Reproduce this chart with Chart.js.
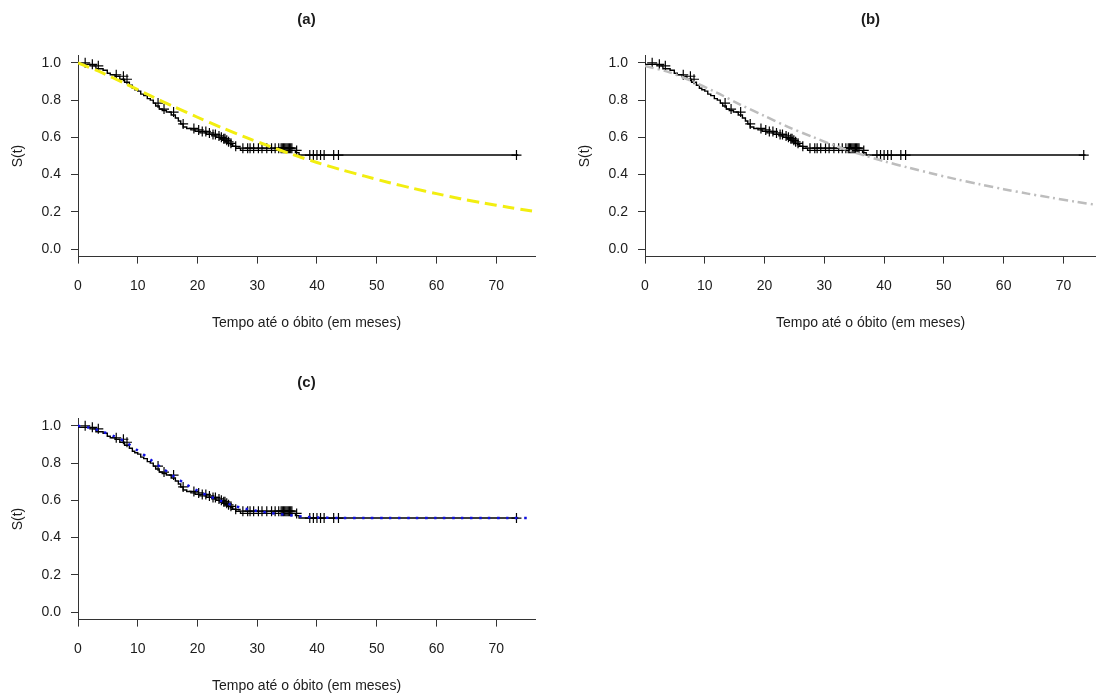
<!DOCTYPE html>
<html>
<head>
<meta charset="utf-8">
<script src="https://cdn.jsdelivr.net/npm/chart.js@4.4.1/dist/chart.umd.min.js"></script>
<style>
  html, body { margin: 0; padding: 0; background: #fff; overflow: hidden; }
  body { width: 1096px; height: 696px; position: relative; }
  canvas { position: absolute; }
</style>
</head>
<body>
<canvas id="chart-a" width="548" height="340" style="left:0;top:0"></canvas>
<canvas id="chart-b" width="537" height="340" style="left:567px;top:0"></canvas>
<canvas id="chart-c" width="548" height="333" style="left:0;top:363px"></canvas>
<script>
// Kaplan-Meier step points (time in months, survival)
const kmTimes = [0, 2.0, 3.0, 4.2, 4.9, 5.4, 6.2, 7.0, 7.8, 8.6, 9.1, 9.5, 10.0, 10.5, 11.0, 11.6, 12.1, 12.6, 13.0, 13.6, 14.1, 14.8, 15.6, 16.3, 16.8, 17.2, 17.6, 18.2, 18.9, 19.6, 20.4, 21.5, 22.4, 23.1, 23.8, 24.3, 24.7, 25.1, 25.5, 25.9, 26.4, 27.2, 36.4, 37.0, 38.2, 73.7];
const kmSurv = [1.0, 0.992, 0.984, 0.968, 0.96, 0.944, 0.936, 0.928, 0.912, 0.896, 0.88, 0.864, 0.856, 0.848, 0.832, 0.824, 0.808, 0.8, 0.784, 0.768, 0.752, 0.744, 0.736, 0.72, 0.704, 0.688, 0.672, 0.656, 0.648, 0.64, 0.632, 0.624, 0.616, 0.608, 0.6, 0.592, 0.584, 0.576, 0.568, 0.56, 0.552, 0.542, 0.53, 0.518, 0.505, 0.505];

// censored observations (+ marks)
const censorTimes = [1.2, 2.4, 3.4, 6.4, 7.6, 8.2, 13.4, 14.4, 16.0, 17.6, 19.4, 20.2, 20.8, 21.4, 22.0, 22.6, 23.0, 23.6, 24.0, 24.4, 24.6, 24.9, 25.2, 25.6, 26.4, 27.6, 28.4, 28.8, 29.4, 30.2, 30.8, 31.6, 32.4, 33.0, 33.6, 34.0, 34.2, 34.4, 34.6, 34.8, 35.0, 35.2, 35.4, 35.6, 35.8, 36.6, 38.8, 39.4, 40.0, 40.6, 41.2, 42.8, 43.6, 73.4];

// fitted parametric curves
const fitTimes = [0, 4, 8, 12, 16, 20, 24, 28, 32, 36, 40, 44, 48, 52, 56, 60, 64, 68, 72, 76];
const fitSurvA = [1.0, 0.947, 0.887, 0.825, 0.765, 0.708, 0.653, 0.601, 0.553, 0.507, 0.465, 0.427, 0.392, 0.358, 0.327, 0.298, 0.271, 0.247, 0.225, 0.205];
const fitSurvB = [0.983, 0.95, 0.9, 0.84, 0.775, 0.715, 0.655, 0.603, 0.553, 0.51, 0.472, 0.438, 0.406, 0.376, 0.348, 0.322, 0.298, 0.276, 0.255, 0.235];

// cure-rate model curve
const cureTimes = [0, 2, 4, 6, 8, 10, 12, 14, 16, 18, 20, 22, 24, 26, 28, 30, 32, 34, 36, 38, 40, 44, 48, 52, 56, 60, 64, 68, 72, 76];
const cureSurv = [1.0, 0.99, 0.97, 0.945, 0.912, 0.868, 0.822, 0.775, 0.73, 0.688, 0.652, 0.622, 0.596, 0.572, 0.555, 0.543, 0.533, 0.525, 0.518, 0.512, 0.508, 0.505, 0.505, 0.505, 0.505, 0.505, 0.505, 0.505, 0.505, 0.505];

const xTicks = [0, 10, 20, 30, 40, 50, 60, 70];
const yTicks = [0, 0.2, 0.4, 0.6, 0.8, 1.0];
const xTitle = 'Tempo até o óbito (em meses)';
const yTitle = 'S(t)';

const FONT = '"Liberation Sans", Arial, sans-serif';
const INK = '#1c1c1c';

const pairs = (xs, ys) => xs.map((x, i) => ({ x, y: ys[i] }));

const survAt = (t) => {
  let s = kmSurv[0];
  kmTimes.forEach((kt, i) => { if (kt <= t) s = kmSurv[i]; });
  return s;
};

const panelTitle = {
  id: 'panelTitle',
  afterDraw(chart, args, opts) {
    const { ctx, chartArea } = chart;
    ctx.save();
    ctx.font = 'bold 15px ' + FONT;
    ctx.fillStyle = INK;
    ctx.textAlign = 'center';
    ctx.textBaseline = 'middle';
    ctx.fillText(opts.text, (chartArea.left + chartArea.right) / 2, opts.y);
    ctx.restore();
  }
};

const makePanel = (id, title, fit, opts) => {
  const datasets = [
    Object.assign({ data: fit.data, showLine: true, pointRadius: 0, fill: false, tension: 0.3 }, fit.style),
    {
      data: pairs(kmTimes, kmSurv),
      showLine: true,
      stepped: 'after',
      borderColor: '#000',
      borderWidth: 1.4,
      pointRadius: 0
    },
    {
      data: censorTimes.map((t) => ({ x: t, y: survAt(t) })),
      showLine: false,
      pointStyle: 'cross',
      pointRadius: 5,
      borderColor: '#000',
      borderWidth: 1.2,
      backgroundColor: '#000'
    }
  ];

  new Chart(document.getElementById(id), {
    type: 'scatter',
    data: { datasets },
    plugins: [panelTitle],
    options: {
      responsive: false,
      animation: false,
      layout: { padding: { top: 55.4, right: opts.right, bottom: 0, left: 0 } },
      plugins: {
        legend: { display: false },
        tooltip: { enabled: false },
        panelTitle: { text: title, y: 20 }
      },
      scales: {
        x: {
          type: 'linear',
          min: 0,
          max: opts.xMax,
          afterBuildTicks: (scale) => { scale.ticks = xTicks.map((v) => ({ value: v })); },
          afterFit: (scale) => { scale.height = opts.xHeight; },
          grid: { drawOnChartArea: false, drawTicks: true, tickLength: 7, color: '#333' },
          border: { display: true, color: '#333', width: 1 },
          ticks: { color: INK, font: { family: FONT, size: 14 }, padding: 14, maxRotation: 0 },
          title: { display: true, text: xTitle, color: INK, font: { family: FONT, size: 14 }, padding: { top: 0, bottom: opts.xTitlePad } }
        },
        y: {
          min: -0.04,
          max: 1.04,
          afterBuildTicks: (scale) => { scale.ticks = yTicks.map((v) => ({ value: v })); },
          afterFit: (scale) => { scale.width = 78; },
          grid: { drawOnChartArea: false, drawTicks: true, tickLength: 7, color: '#333' },
          border: { display: true, color: '#333', width: 1 },
          ticks: { color: INK, font: { family: FONT, size: 14 }, padding: 10, callback: (v) => Number(v).toFixed(1) },
          title: { display: true, text: yTitle, color: INK, font: { family: FONT, size: 14 }, padding: { top: 10, bottom: 0 } }
        }
      }
    }
  });
};

makePanel('chart-a', '(a)', {
  data: pairs(fitTimes, fitSurvA),
  style: { borderColor: '#f2ee10', borderWidth: 3, borderDash: [12, 6] }
}, { right: 13, xMax: 76.5, xHeight: 83.4, xTitlePad: 8 });

// this canvas runs past the window edge so the plot reaches x = 1096
makePanel('chart-b', '(b)', {
  data: pairs(fitTimes, fitSurvB),
  style: { borderColor: '#bdbdbd', borderWidth: 2.5, borderDash: [9, 4, 2, 4] }
}, { right: 8, xMax: 75.45, xHeight: 83.4, xTitlePad: 8 });

makePanel('chart-c', '(c)', {
  data: pairs(cureTimes, cureSurv),
  style: { borderColor: '#1010e0', borderWidth: 2.5, borderDash: [2.5, 6.5] }
}, { right: 13, xMax: 76.5, xHeight: 76.4, xTitlePad: 1 });
</script>
</body>
</html>
